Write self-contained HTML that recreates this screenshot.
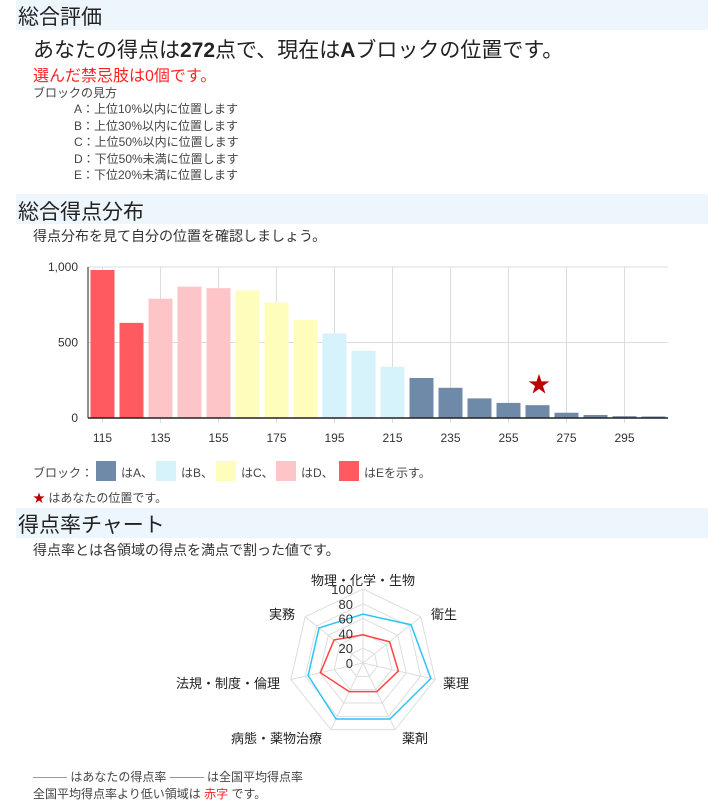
<!DOCTYPE html>
<html><head><meta charset="utf-8"><style>
body{margin:0;width:723px;height:800px;background:#fff;font-family:"Liberation Sans","Noto Sans CJK JP",sans-serif;color:#333;position:relative;overflow:hidden}
.a{position:absolute;white-space:nowrap}
.band{position:absolute;left:16px;width:692px;height:30px;background:#edf5fd}
.h{font-size:21px;color:#222;left:18px}
.s{font-size:12px;color:#444}
.ln{display:inline-block;width:34px;height:1px;vertical-align:middle}
</style></head><body>
<div class="band" style="top:0"></div>
<div class="a h" style="top:1px">総合評価</div>
<div class="a" style="left:33px;top:34px;font-size:21px;color:#222">あなたの得点は<b>272</b>点で、現在は<b>A</b>ブロックの位置です。</div>
<div class="a" style="left:33px;top:62px;font-size:16px;color:#f22">選んだ禁忌肢は0個です。</div>
<div class="a s" style="left:33px;top:84px">ブロックの見方</div>
<div class="a s" style="left:74px;top:101px;line-height:16.5px">A：上位10%以内に位置します<br>B：上位30%以内に位置します<br>C：上位50%以内に位置します<br>D：下位50%未満に位置します<br>E：下位20%未満に位置します</div>
<div class="band" style="top:194px"></div>
<div class="a h" style="top:196px">総合得点分布</div>
<div class="a" style="left:33px;top:226px;font-size:14px">得点分布を見て自分の位置を確認しましょう。</div>
<svg class="a" style="left:0;top:0" width="723" height="800" id="g"></svg>
<div class="a s" style="left:33px;top:464px">ブロック：</div>
<div class="a" style="left:96px;top:461px;width:20px;height:20px;background:#6f8aa8"></div>
<div class="a s" style="left:121px;top:464px">はA、</div>
<div class="a" style="left:156px;top:461px;width:20px;height:20px;background:#d6f3fb"></div>
<div class="a s" style="left:181px;top:464px">はB、</div>
<div class="a" style="left:216px;top:461px;width:20px;height:20px;background:#fefdbb"></div>
<div class="a s" style="left:241px;top:464px">はC、</div>
<div class="a" style="left:276px;top:461px;width:20px;height:20px;background:#fec5c8"></div>
<div class="a s" style="left:301px;top:464px">はD、</div>
<div class="a" style="left:339px;top:461px;width:20px;height:20px;background:#ff5a5f"></div>
<div class="a s" style="left:364px;top:464px">はEを示す。</div>
<div class="a s" style="left:33px;top:489px"><span style="color:#b00">★</span> はあなたの位置です。</div>
<div class="band" style="top:508px"></div>
<div class="a h" style="top:509px">得点率チャート</div>
<div class="a" style="left:33px;top:540px;font-size:14px">得点率とは各領域の得点を満点で割った値です。</div>
<div class="a s" style="left:33px;top:768px"><span class="ln" style="background:#2cc4f4"></span> はあなたの得点率 <span class="ln" style="background:#f66"></span> は全国平均得点率</div>
<div class="a s" style="left:33px;top:785px">全国平均得点率より低い領域は <span style="color:#f22">赤字</span> です。</div>
<script>
var s='',v=[980,630,790,870,860,845,765,650,560,445,340,265,200,130,100,85,35,20,12,10];
var L=88,R=668,y0=418,y1=267,bw=29;
[0,500,1000].forEach(function(t){var y=y0-(y0-y1)*t/1000;s+='<line x1="'+L+'" x2="'+R+'" y1="'+y+'" y2="'+y+'" stroke="#ddd"/><text x="'+(L-10)+'" y="'+(y+4)+'" font-size="12" text-anchor="end" fill="#333">'+(t==1000?'1,000':t)+'</text>';});
for(var i=0;i<20;i+=2){var x=L+bw*(i+0.5);s+='<line x1="'+x+'" x2="'+x+'" y1="'+y1+'" y2="'+(y0+5)+'" stroke="#ddd"/><text x="'+x+'" y="'+(y0+24)+'" font-size="12" text-anchor="middle" fill="#333">'+(115+i*10)+'</text>';}
v.forEach(function(d,i){var c=i<2?'#ff5a5f':i<5?'#fec5c8':i<8?'#fefdbb':i<11?'#d6f3fb':'#6f8aa8';var h=(y0-y1)*d/1000;s+='<rect x="'+(L+bw*i+2.5)+'" y="'+(y0-h)+'" width="24" height="'+h+'" fill="'+c+'"/>';});
s+='<line x1="'+L+'" x2="'+R+'" y1="'+y0+'" y2="'+y0+'" stroke="#222" stroke-width="1.5"/><line x1="'+L+'" x2="'+L+'" y1="'+y1+'" y2="'+y0+'" stroke="#222"/>';
s+='<text x="539" y="392" font-size="22" text-anchor="middle" fill="#b00">★</text>';
var cx=363,cy=663,r=74,n=7;function p(k,f){var a=2*Math.PI*k/n;return [cx+r*f*Math.sin(a),cy-r*f*Math.cos(a)];}
for(var g=1;g<=5;g++){var pts=[];for(var k=0;k<n;k++)pts.push(p(k,g/5).join(','));s+='<polygon points="'+pts.join(' ')+'" fill="none" stroke="#ddd"/>';}
for(var k=0;k<n;k++){var q=p(k,1);s+='<line x1="'+cx+'" y1="'+cy+'" x2="'+q[0]+'" y2="'+q[1]+'" stroke="#ddd"/>';}
function poly(a,c){var pts=a.map(function(d,k){return p(k,d/100).join(',')});s+='<polygon points="'+pts.join(' ')+'" fill="none" stroke="'+c+'" stroke-width="1.5"/>';}
poly([66,83,94,84,84,76,76],'#2cc4f4');poly([38,46,49,43,43,59,50],'#f44');
for(var t=0;t<=100;t+=20){s+='<text x="'+(cx-10)+'" y="'+(cy-r*t/100+5)+'" font-size="13" text-anchor="end" fill="#333">'+t+'</text>';}
var lab=[['物理・化学・生物',363,585,'middle'],['衛生',431,619,'start'],['薬理',443,688,'start'],['薬剤',402,743,'start'],['病態・薬物治療',322,743,'end'],['法規・制度・倫理',280,688,'end'],['実務',295,619,'end']];
lab.forEach(function(l){s+='<text x="'+l[1]+'" y="'+l[2]+'" font-size="13" text-anchor="'+l[3]+'" fill="#222">'+l[0]+'</text>';});
document.getElementById('g').innerHTML=s;
</script>
</body></html>
